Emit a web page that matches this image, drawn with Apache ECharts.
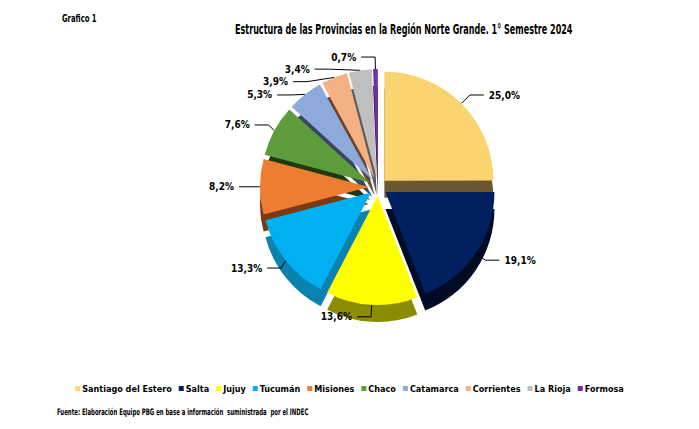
<!DOCTYPE html>
<html>
<head>
<meta charset="utf-8">
<script src="https://cdn.jsdelivr.net/npm/echarts@6/dist/echarts.min.js"></script>
<style>
html,body{margin:0;padding:0;background:#fff;}
#c{width:699px;height:429px;}
</style>
</head>
<body>
<div id="c"></div>
<script>
var categories = ["Santiago del Estero","Salta","Jujuy","Tucumán","Misiones","Chaco","Catamarca","Corrientes","La Rioja","Formosa"];
var values = [25.0, 19.1, 13.6, 13.3, 8.2, 7.6, 5.3, 3.9, 3.4, 0.7];
var colors = ["#FAD46E","#002060","#FFFF00","#00B0F0","#ED7D31","#5E9B3A","#8EA9DB","#F4B183","#BFBFBF","#7030A0"];
var sideColors = ["#6B5730","#000B26","#8C8C00","#0A82B0","#7A3A10","#1F3A12","#3A4560","#6B4530","#5A5A5A","#3A1855"];
var titleText = 'Estructura de las Provincias en la Región Norte Grande. 1° Semestre 2024';
var chartLabel = 'Grafico 1';
var sourceText = 'Fuente: Elaboración Equipo PBG en base a información  suministrada  por el INDEC';

var FONT = "'DejaVu Sans Condensed','Liberation Sans Narrow','Arial Narrow',sans-serif";

var topData = categories.map(function(n,i){
  return {name:n, value:values[i], selected:true, itemStyle:{color:colors[i]}};
});
var sideData = categories.map(function(n,i){
  return {name:n, value:values[i], selected:true, itemStyle:{color:sideColors[i]}};
});

var chart = echarts.init(document.getElementById('c'), null, {renderer:'svg'});
chart.setOption({
  animation:false,
  color: colors,
  graphic:[
    {type:'text', x:235, y:22, scaleX:0.64, style:{text:titleText, fill:'#000', font:"bold 14px " + FONT}},
    {type:'text', x:62, y:14, scaleX:0.76, style:{text:chartLabel, fill:'#000', font:"bold 10px " + FONT}},
    {type:'text', x:57, y:408, scaleX:0.665, style:{text:sourceText, fill:'#000', font:"bold 9px " + FONT}}
  ],
  legend:{
    data: categories,
    left: 'center', top: 379,
    itemWidth:5, itemHeight:5, itemGap:7,
    icon:'rect',
    selectedMode:false,
    textStyle:{fontFamily:FONT, fontSize:9, fontWeight:'bold', color:'#000', padding:[0,0,0,-3]}
  },
  series:[
    {
      type:'pie', center:[378,187], radius:[0,109],
      startAngle:90, clockwise:true,
      selectedMode:'multiple', selectedOffset:9,
      data: topData, z:2,
      label:{
        show:true, position:'outside', color:'#000',
        fontFamily:FONT, fontSize:10, fontWeight:'bold',
        formatter:function(p){ return p.value.toFixed(1).replace('.',',') + '%'; }
      },
      labelLine:{show:true, length:12, length2:14, lineStyle:{color:'#000', width:1}}
    },
    {
      type:'pie', center:[378,204], radius:[0,109],
      startAngle:90, clockwise:true,
      selectedMode:'multiple', selectedOffset:9,
      silent:true, label:{show:false}, labelLine:{show:false},
      data: sideData, z:1
    }
  ]
});
</script>
</body>
</html>
